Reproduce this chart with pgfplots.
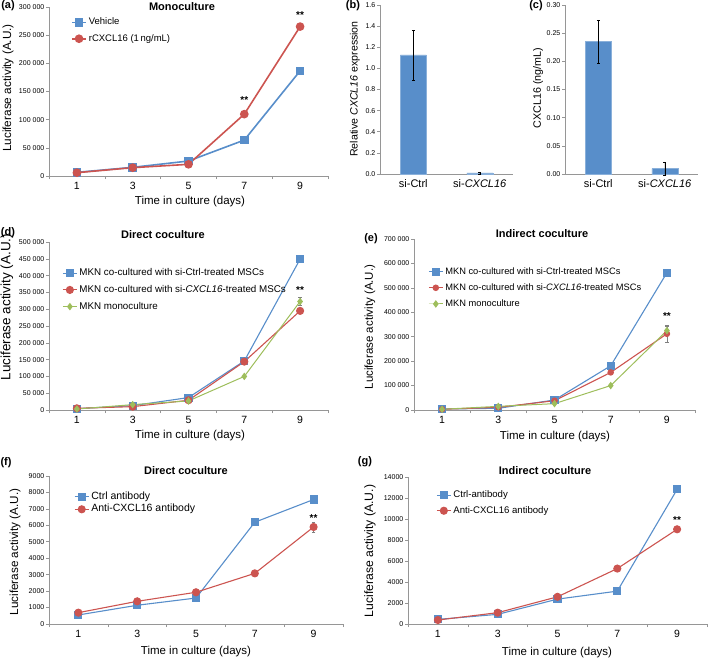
\documentclass[border=0pt]{standalone}
\usepackage{pgfplots}
\pgfplotsset{compat=1.18}
\usepackage{fontspec}
\setmainfont{Liberation Sans}
\definecolor{xblue}{RGB}{88,142,202}
\definecolor{xred}{RGB}{204,84,80}
\definecolor{xgreen}{RGB}{158,190,92}
\definecolor{axgray}{RGB}{150,150,150}
\pgfplotsset{
 base/.style={
  scale only axis, clip=false,
  axis x line*=bottom, axis y line*=left,
  axis line style={draw=axgray, line width=0.8pt},
  tick style={draw=axgray, line width=0.6pt},
  tick align=outside, major tick length=3pt, minor tick length=3pt,
  /pgf/number format/assume math mode=true,
  /pgf/number format/fixed,
  scaled y ticks=false,
  yticklabel style={font=\fontsize{7}{8}\selectfont, inner sep=1.5pt},
  xticklabel style={font=\fontsize{10.5}{12}\selectfont},
  ymin=0,
 },
 lines/.style={base, xmin=0, xmax=10, xtick={1,3,5,7,9}, minor xtick={0,2,4,6,8,10},
   major x tick style={draw=none},
   legend cell align=left,
   legend image code/.code={\draw[mark repeat=2,mark phase=2,##1] plot coordinates {(0pt,0pt) (7pt,0pt) (14pt,0pt)};},
 },
 leg/.style 2 args={legend style={at={(rel axis cs:#1)}, anchor=north west, draw=none, fill=none,
   inner sep=0pt, row sep=0pt, nodes={inner xsep=2pt, inner ysep=#2, text height=0.72em, text depth=0.22em}}},
 bars/.style={base, xmin=0.5, xmax=2.5, xtick={1,2}, major x tick style={draw=none},
   xticklabels={si-Ctrl, si-\textit{CXCL16}},
   xticklabel style={font=\fontsize{11}{12}\selectfont, yshift=1pt},
   /pgf/number format/.cd, fixed, fixed zerofill},
 bl/.style={color=xblue, line width=1.1pt, mark=square*, mark size=3.5pt},
 rd/.style={color=xred, line width=1.1pt, mark=*, mark size=3.5pt},
 gr/.style={color=xgreen, line width=1.0pt, mark=diamond*, mark size=3pt},
 eb/.style={error bars/.cd, y dir=both, y explicit,
   error bar style={gray, line width=0.5pt}, error mark options={rotate=90, mark size=1.8pt, gray}},
 ebk/.style={error bars/.cd, y dir=both, y explicit,
   error bar style={black, line width=0.5pt}, error mark options={rotate=90, mark size=1.5pt, black}},
}
\newcommand{\lab}[1]{\fontsize{11.5}{13}\selectfont #1}
\newcommand{\ttl}[1]{\fontsize{11}{13}\selectfont\bfseries #1}
\newcommand{\stars}{\fontsize{10}{10}\selectfont\bfseries **}
\begin{document}
\begin{tikzpicture}
\path[use as bounding box] (0pt,0pt) rectangle (709pt,-661pt);

% ---------- (a)
\begin{axis}[lines, at={(49pt,-176pt)}, anchor=south west, width=279pt, height=169pt,
  ymax=300000, ytick={0,50000,...,300000}, /pgf/number format/1000 sep={~},
  leg={0.079,0.959}{3.5pt}, legend style={font=\fontsize{9.5}{11}\selectfont}]
\addplot[bl, line width=1.6pt] coordinates {(1,6500) (3,15400) (5,26600) (7,63800) (9,186600)};
\addlegendentry{Vehicle}
\addplot[rd, line width=1.6pt] coordinates {(1,5900) (3,14800) (5,20700) (7,109800) (9,265200)};
\addlegendentry{rCXCL16 (1\,ng/mL)}
\node at (axis cs:7,135000) {\stars};
\node at (axis cs:9,286000) {\stars};
\end{axis}
\node[rotate=90] at (8pt,-88pt) {\fontsize{11.8}{13}\selectfont Luciferase activity (A.U.)};
\node at (190pt,-202pt) {\lab{Time in culture (days)}};
\node at (182pt,-7pt) {\ttl{Monoculture}};
\node at (8pt,-6pt) {\ttl{(a)}};

% ---------- (b)
\begin{axis}[bars, at={(380pt,-174pt)}, anchor=south west, width=133pt, height=169pt,
  ymax=1.6, ytick={0,0.2,...,1.6}, /pgf/number format/precision=1]
\addplot[ybar, bar width=26pt, fill=xblue, draw=xblue!70!white, ebk]
  coordinates {(1,1.127) +- (0,0.236) (2,0.01) +- (0,0.01)};
\end{axis}
\node[rotate=90] at (355pt,-89pt) {\fontsize{10.6}{12}\selectfont Relative \textit{CXCL16} expression};
\node at (353pt,-6pt) {\ttl{(b)}};

% ---------- (c)
\begin{axis}[bars, at={(565pt,-174pt)}, anchor=south west, width=133pt, height=169pt,
  ymax=0.30, ytick={0,0.05,...,0.30}, /pgf/number format/precision=2]
\addplot[ybar, bar width=26pt, fill=xblue, draw=xblue!70!white, ebk]
  coordinates {(1,0.235) +- (0,0.038) (2,0.0095) +- (0,0.012)};
\end{axis}
\node[rotate=90] at (538pt,-88pt) {\fontsize{10.7}{12}\selectfont CXCL16 (ng/mL)};
\node at (536pt,-6pt) {\ttl{(c)}};

% ---------- (d)
\begin{axis}[lines, at={(49pt,-410pt)}, anchor=south west, width=279pt, height=168pt,
  ymax=500000, ytick={0,50000,...,500000}, /pgf/number format/1000 sep={~},
  leg={0.047,0.865}{3.65pt}, legend style={font=\fontsize{9.8}{11}\selectfont}]
\addplot[bl] coordinates {(1,4000) (3,13000) (5,37000) (7,146000) (9,449000)};
\addlegendentry{MKN co-cultured with si-Ctrl-treated MSCs}
\addplot[rd] coordinates {(1,5000) (3,10000) (5,29000) (7,144000) (9,295000)};
\addlegendentry{MKN co-cultured with si-\textit{CXCL16}-treated MSCs}
\addplot[gr, eb] coordinates {(1,3000) (3,16000) (5,27000) (7,100000) (9,323000) +- (0,12000)};
\addlegendentry{MKN monoculture}
\node at (axis cs:9,356000) {\stars};
\end{axis}
\node[rotate=90] at (7pt,-307pt) {\fontsize{13.5}{15}\selectfont Luciferase activity (A.U.)};
\node at (190pt,-436pt) {\lab{Time in culture (days)}};
\node at (163pt,-235pt) {\ttl{Direct coculture}};
\node at (8pt,-233pt) {\ttl{(d)}};

% ---------- (e)
\begin{axis}[lines, at={(414pt,-410pt)}, anchor=south west, width=281pt, height=171pt,
  ymax=700000, ytick={0,100000,...,700000}, /pgf/number format/1000 sep={~},
  leg={0.050,0.858}{3.4pt}, legend style={font=\fontsize{9.3}{11}\selectfont}]
\addplot[bl, eb] coordinates {(1,4000) (3,7000) (5,41000) (7,181000) (9,562000) +- (0,10000)};
\addlegendentry{MKN co-cultured with si-Ctrl-treated MSCs}
\addplot[rd, mark size=2.7pt, eb] coordinates {(1,3000) (3,11000) (5,38000) (7,154000) (9,312000) +- (0,36000)};
\addlegendentry{MKN co-cultured with si-\textit{CXCL16}-treated MSCs}
\addplot[gr, eb] coordinates {(1,3000) (3,15000) (5,26000) (7,100000) (9,325000) +- (0,20000)};
\addlegendentry{MKN monoculture}
\node at (axis cs:9,386000) {\stars};
\end{axis}
\node[rotate=90] at (370pt,-327pt) {\fontsize{11.5}{13}\selectfont Luciferase activity (A.U.)};
\node at (555pt,-437pt) {\lab{Time in culture (days)}};
\node at (542pt,-234pt) {\ttl{Indirect coculture}};
\node at (371pt,-239pt) {\ttl{(e)}};

% ---------- (f)
\begin{axis}[lines, at={(49pt,-624pt)}, anchor=south west, width=294pt, height=148pt,
  ymax=9000, ytick={0,1000,...,9000}, /pgf/number format/1000 sep={},
  leg={0.085,0.902}{1.5pt}, legend style={font=\fontsize{10.5}{12}\selectfont}]
\addplot[bl] coordinates {(1,550) (3,1140) (5,1580) (7,6190) (9,7570)};
\addlegendentry{Ctrl antibody}
\addplot[rd, eb] coordinates {(1,690) (3,1380) (5,1930) (7,3080) (9,5900) +- (0,300)};
\addlegendentry{Anti-CXCL16 antibody}
\node at (axis cs:9,6450) {\stars};
\end{axis}
\node[rotate=90] at (15pt,-552pt) {\fontsize{11.7}{13}\selectfont Luciferase activity (A.U.)};
\node at (196pt,-652pt) {\lab{Time in culture (days)}};
\node at (186pt,-471pt) {\ttl{Direct coculture}};
\node at (6pt,-463pt) {\ttl{(f)}};

% ---------- (g)
\begin{axis}[lines, at={(408pt,-624pt)}, anchor=south west, width=299pt, height=147pt,
  ymax=14000, ytick={0,2000,...,14000}, /pgf/number format/1000 sep={},
  leg={0.094,0.929}{3pt}, legend style={font=\fontsize{9.6}{11}\selectfont}]
\addplot[bl, eb] coordinates {(1,440) (3,920) (5,2370) (7,3130) (9,12820) +- (0,200)};
\addlegendentry{Ctrl-antibody}
\addplot[rd] coordinates {(1,380) (3,1080) (5,2590) (7,5280) (9,9020)};
\addlegendentry{Anti-CXCL16 antibody}
\node at (axis cs:9,9900) {\stars};
\end{axis}
\node[rotate=90] at (370pt,-551pt) {\fontsize{12.2}{13}\selectfont Luciferase activity (A.U.)};
\node at (557pt,-653pt) {\lab{Time in culture (days)}};
\node at (545pt,-471pt) {\ttl{Indirect coculture}};
\node at (365pt,-462pt) {\ttl{(g)}};
\end{tikzpicture}
\end{document}
